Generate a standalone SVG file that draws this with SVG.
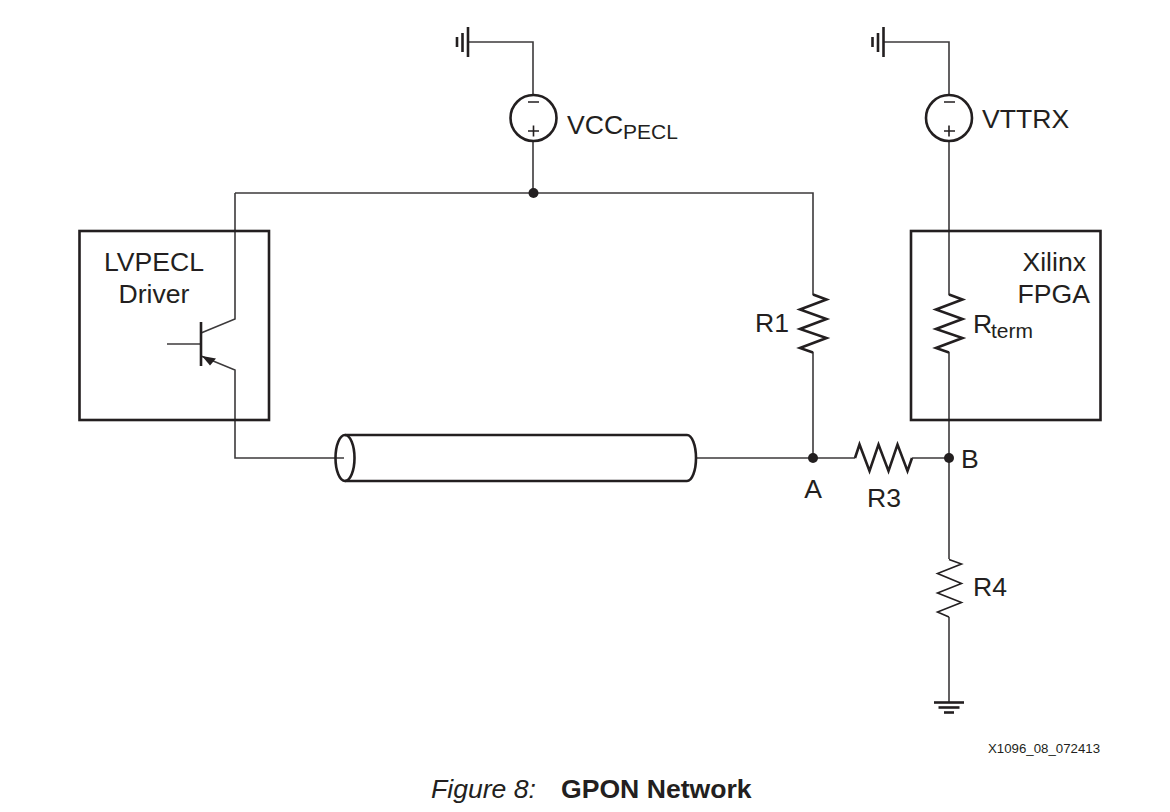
<svg xmlns="http://www.w3.org/2000/svg" width="1170" height="812" viewBox="0 0 1170 812">
<style>
text{font-family:"Liberation Sans",Arial,sans-serif;font-size:26.6px;fill:#231f20}
.sub{font-size:21px}
.w{fill:none;stroke:#3c3a3b;stroke-width:1.6}
.t{fill:none;stroke:#231f20;stroke-width:2.6}
.m{fill:none;stroke:#231f20;stroke-width:1.6}
.d{fill:#231f20}
</style>
<rect width="1170" height="812" fill="#fff"/>
<g id="connectors">
<path class="w" d="M468 42H533V95M533 141V193M235 193H813V295M813 352V458M235 193V319L201 333M201 356L235 370V458H344M695 458H855M912 458H949M949 141V295M949 352V559M949 617V702M883.500 42H949V95"/>
</g>
<g id="gnd-top-left"><path class="t" d="M468 27V57"/><path class="t" d="M462.500 33V52"/><path class="t" d="M457 37V47"/></g>
<g id="gnd-top-right"><path class="t" d="M883.500 27V57"/><path class="t" d="M878 33V52"/><path class="t" d="M872.500 37V47"/></g>
<g id="src-vcc"><circle class="t" cx="533.500" cy="118" r="23"/><path class="m" d="M528 102H539M528 131H539M533.500 125.500V136.500"/><text x="567" y="134">VCC</text><text class="sub" x="623" y="139">PECL</text></g>
<g id="src-vtt"><circle class="t" cx="949" cy="118" r="23"/><path class="m" d="M944 102H955M944 131H955M949 125.500V136.500"/><text x="982" y="127.500">VTTRX</text></g>
<g id="driver"><rect class="t" x="79.500" y="231" width="189.500" height="189"/><text x="154" y="271" text-anchor="middle">LVPECL</text><text x="154" y="303" text-anchor="middle">Driver</text>
<path class="w" d="M167 344H201"/><path class="t" d="M201 322V366"/><path class="d" d="M202 356L216 358.500L210 365.500Z"/></g>
<g id="fpga"><rect class="t" x="911" y="231" width="189.500" height="189"/><text x="1086" y="271" text-anchor="end">Xilinx</text><text x="1090" y="303" text-anchor="end">FPGA</text></g>
<g id="cable"><ellipse class="t" cx="345" cy="458" rx="9.500" ry="23"/><path class="t" d="M345 435H687A9 23 0 0 1 687 481H345"/></g>
<g id="r1"><path class="t" d="M813 294.500L826.500 299.500L800 309.500L826.500 319L800 329L826.500 338L800 348L813 352.500"/><text x="755" y="332">R1</text></g>
<g id="rterm"><path class="t" d="M949 294.500L962.500 299.500L936 309.500L962.500 319L936 329L962.500 338L936 348L949 352.500"/><text x="973" y="333">R</text><text class="sub" x="991" y="337.500">term</text></g>
<g id="r3"><path class="t" d="M855 458L859.500 444.500L869.500 471L878.500 444.500L888.500 471L897.500 444.500L907.500 471L912 458"/><text x="867" y="507">R3</text></g>
<g id="r4"><path class="m" d="M949 559.500L961.500 564L937.500 573.500L961.500 583.500L937.500 593L961.500 602.500L937.500 612L949 617"/><text x="973" y="596">R4</text></g>
<g id="gnd-bottom"><path class="t" d="M934 702.500H964"/><path class="t" d="M938.500 707.500H959.500"/><path class="t" d="M944 712.500H954"/></g>
<g id="node-top"><circle class="d" cx="533.500" cy="193" r="5"/></g>
<g id="node-a"><circle class="d" cx="813" cy="458" r="5"/><text x="813" y="497.500" text-anchor="middle">A</text></g>
<g id="node-b"><circle class="d" cx="949" cy="458" r="5"/><text x="961" y="468">B</text></g>
<text x="988" y="753" style="font-size:13.25px">X1096_08_072413</text>
<text x="431" y="798" style="font-style:italic">Figure 8:</text>
<text x="561" y="798" style="font-weight:bold">GPON Network</text>
</svg>
